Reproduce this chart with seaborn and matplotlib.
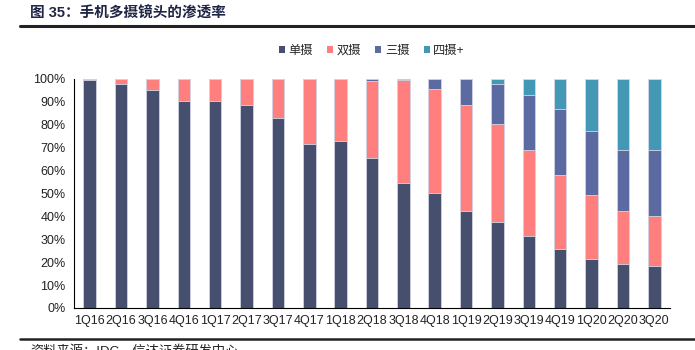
import numpy as np
import pandas as pd
import matplotlib
matplotlib.use("Agg")
import matplotlib.pyplot as plt
from matplotlib.patches import Patch
from matplotlib.lines import Line2D
import seaborn as sns

quarters = ["1Q16", "2Q16", "3Q16", "4Q16", "1Q17", "2Q17", "3Q17", "4Q17",
            "1Q18", "2Q18", "3Q18", "4Q18", "1Q19", "2Q19", "3Q19", "4Q19",
            "1Q20", "2Q20", "3Q20"]
single_cam = [99.7, 98.0, 95.3, 90.4, 90.6, 88.7, 83.1, 71.8, 73.0, 65.3,
              54.4, 50.0, 42.2, 37.4, 31.3, 25.6, 21.4, 19.0, 18.2]
dual_cam = [0.3, 2.0, 4.7, 9.6, 9.4, 11.3, 16.9, 28.2, 26.8, 34.0,
            45.2, 45.5, 46.5, 43.0, 37.5, 32.5, 28.0, 23.3, 21.8]
triple_cam = [0, 0, 0, 0, 0, 0, 0, 0, 0.2, 0.7,
              0.4, 4.4, 11.1, 17.3, 24.4, 29.0, 27.8, 26.9, 28.8]
quad_cam = [0, 0, 0, 0, 0, 0, 0, 0, 0, 0,
            0, 0.1, 0.2, 2.3, 6.8, 12.9, 22.8, 30.8, 31.2]
series_names = ["单摄", "双摄", "三摄", "四摄+"]
colors = ["#464f6d", "#ff7f7f", "#5b6ba1", "#4398b5"]

sns.set_style("white")
plt.rcParams["font.family"] = ["Liberation Sans", "Noto Sans CJK SC", "DejaVu Sans"]

df = pd.DataFrame({"quarter": quarters, "单摄": single_cam, "双摄": dual_cam,
                   "三摄": triple_cam, "四摄+": quad_cam})
cum = df[series_names].cumsum(axis=1)

fig = plt.figure(figsize=(6.95, 3.5), dpi=100)
ax = fig.add_axes([0.1065, 0.12, 0.8575, 0.6543])

# stacked bars: draw the cumulative totals from the top layer down
for name, col in reversed(list(zip(series_names, colors))):
    sns.barplot(x=df["quarter"], y=cum[name], color=col, width=0.4,
                edgecolor="#d4d7e6", linewidth=0.6, saturation=1, ax=ax)

ax.set_xlim(-0.5, len(quarters) - 0.5)
ax.set_ylim(0, 100)
ax.set_yticks(np.arange(0, 101, 10))
ax.set_yticklabels([f"{v}%" for v in range(0, 101, 10)])
ax.set_xticks(np.arange(-0.5, len(quarters), 1), minor=True)
ax.tick_params(axis="x", which="major", length=0, pad=5, labelsize=9, colors="#222222")
ax.tick_params(axis="x", which="minor", length=4, width=0.8, color="black", direction="out")
ax.tick_params(axis="y", which="major", length=3, width=0.8, color="black",
               direction="out", labelsize=9, labelcolor="#222222", pad=3)
ax.set_xlabel("")
ax.set_ylabel("")
for s in ["top", "right"]:
    ax.spines[s].set_visible(False)
for s in ["left", "bottom"]:
    ax.spines[s].set_color("black")
    ax.spines[s].set_linewidth(0.8)

handles = [Patch(facecolor=c, edgecolor="none") for c in colors]
fig.legend(handles, series_names, loc="center", bbox_to_anchor=(0.535, 0.855),
           ncol=4, frameon=False, fontsize=8.8, handlelength=0.5, handleheight=0.5,
           handletextpad=0.3, columnspacing=1.15)

# title and rules
fig.text(30 / 695, 1 - 14 / 350, "图 35：手机多摄镜头的渗透率", fontsize=10.5,
         fontweight="bold", color="#1f2545", va="center", ha="left")
fig.add_artist(Line2D([20 / 695, 1], [1 - 26 / 350] * 2, color="#222222", lw=2.2))
fig.add_artist(Line2D([20 / 695, 1], [1 - 339 / 350] * 2, color="#222222", lw=1.8))
fig.text(30 / 695, 1 - 352 / 350, "资料来源：IDC，信达证券研发中心", fontsize=9.5,
         color="#222222", va="center", ha="left")

fig.savefig("out.png", dpi=100)
